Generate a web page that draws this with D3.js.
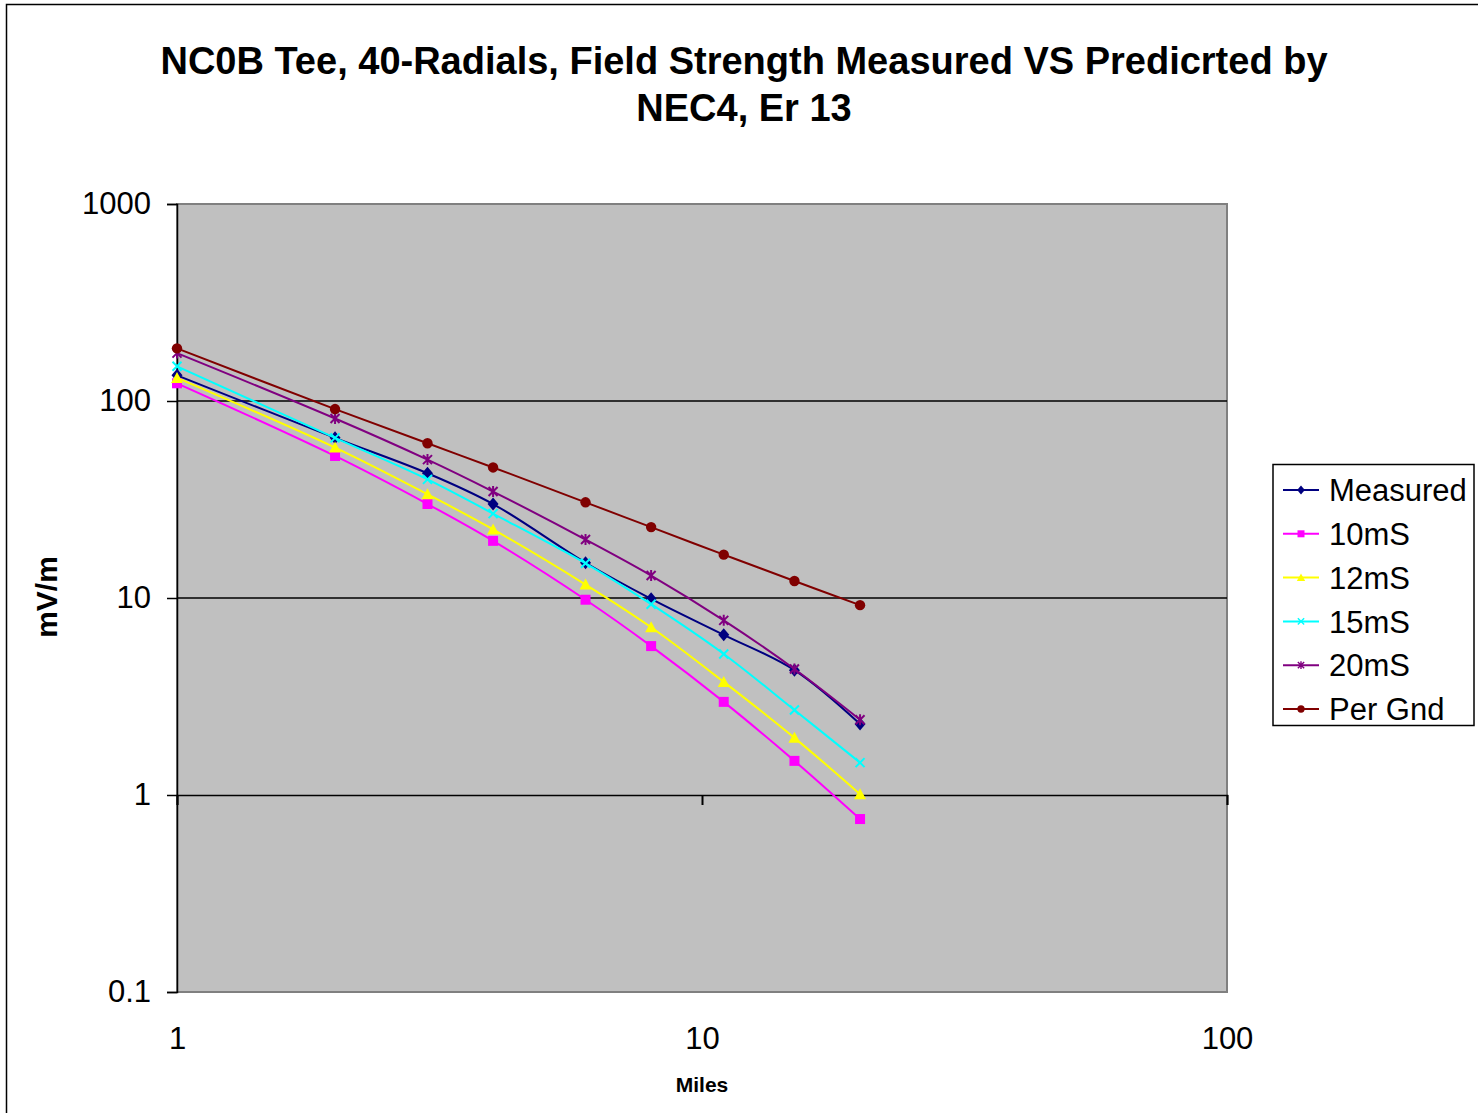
<!DOCTYPE html>
<html>
<head>
<meta charset="utf-8">
<script src="https://cdn.jsdelivr.net/npm/d3@7"></script>
<style>
  html, body { margin: 0; padding: 0; background: #fff; }
  svg { display: block; font-family: "Liberation Sans", Arial, sans-serif; }
</style>
</head>
<body>
<svg id="chart" width="1478" height="1113"></svg>
<script>
// distances in miles
const miles = [1, 2, 3, 4, 6, 8, 11, 15, 20]
// field strength, mV/m
const measured = [135, 65, 43, 30, 15.1, 9.9, 6.5, 4.3, 2.29]
const ms10 = [123, 52.6, 30, 19.5, 9.8, 5.7, 2.97, 1.49, 0.755]
const ms12 = [131, 58, 33.6, 22.3, 11.7, 7.1, 3.75, 1.95, 1.01]
const ms15 = [150, 65, 40, 26.8, 15, 9.3, 5.2, 2.7, 1.46]
const ms20 = [175, 81.5, 50.4, 34.7, 19.8, 13, 7.7, 4.36, 2.41]
const perGnd = [185, 91, 61, 46, 30.6, 22.9, 16.6, 12.2, 9.2]

const seriesNames = ["Measured", "10mS", "12mS", "15mS", "20mS", "Per Gnd"]
const xTicks = [1, 10, 100]
const yTicks = [0.1, 1, 10, 100, 1000]

const colors = ["#000080", "#FF00FF", "#FFFF00", "#00FFFF", "#800080", "#800000"]
const markers = ["diamond", "square", "triangle", "x", "star", "circle"]

const series = [measured, ms10, ms12, ms15, ms20, perGnd].map((vals, i) => ({
  name: seriesNames[i],
  color: colors[i],
  marker: markers[i],
  points: miles.map((m, j) => ({ x: m, y: vals[j] }))
}))

const svg = d3.select("#chart")

// chart frame
svg.append("rect")
  .attr("x", 6.5).attr("y", 4.5)
  .attr("width", 1500).attr("height", 1130)
  .attr("fill", "#fff").attr("stroke", "#000").attr("stroke-width", 1.5)

const pLeft = 177, pRight = 1227, pTop = 204, pBottom = 992
const x = d3.scaleLog().domain([1, 100]).range([pLeft, pRight])
const y = d3.scaleLog().domain([0.1, 1000]).range([pBottom, pTop])

// plot area
svg.append("rect")
  .attr("x", pLeft).attr("y", pTop)
  .attr("width", pRight - pLeft).attr("height", pBottom - pTop)
  .attr("fill", "#C0C0C0").attr("stroke", "#808080").attr("stroke-width", 2)

// gridlines
svg.append("g")
  .selectAll("line")
  .data([10, 100])
  .join("line")
    .attr("x1", pLeft).attr("x2", pRight)
    .attr("y1", d => y(d)).attr("y2", d => y(d))
    .attr("stroke", "#000").attr("stroke-width", 1.5)

// x axis crosses at 1
const xAxis = svg.append("g")
  .attr("transform", `translate(0,${y(1)})`)
  .call(d3.axisBottom(x).tickValues(xTicks).tickSize(10).tickFormat(""))
xAxis.select(".domain").attr("stroke", "#000").attr("stroke-width", 1.5)
xAxis.selectAll(".tick line").attr("stroke", "#000").attr("stroke-width", 2)

// x tick labels at the bottom
const xLabels = svg.append("g")
  .attr("transform", `translate(0,${pBottom})`)
  .call(d3.axisBottom(x).tickValues(xTicks).tickSize(0).tickPadding(35).tickFormat(d3.format("d")))
xLabels.select(".domain").remove()
xLabels.selectAll("text")
  .style("font-size", "31px").style("font-family", "Liberation Sans, Arial, sans-serif").attr("fill", "#000")

// y axis
const yAxis = svg.append("g")
  .attr("transform", `translate(${pLeft},0)`)
  .call(d3.axisLeft(y).tickValues(yTicks).tickSize(10).tickPadding(16)
    .tickFormat(d => d < 1 ? "0.1" : d3.format("d")(d)))
yAxis.select(".domain").attr("stroke", "#000").attr("stroke-width", 1.5)
yAxis.selectAll(".tick line").attr("stroke", "#000").attr("stroke-width", 1.5)
yAxis.selectAll("text")
  .style("font-size", "31px").style("font-family", "Liberation Sans, Arial, sans-serif").attr("fill", "#000")

// marker shapes
function markerPath(type) {
  switch (type) {
    case "diamond": return "M0,-6.5L5.5,0L0,6.5L-5.5,0Z"
    case "square": return "M-5,-5H5V5H-5Z"
    case "triangle": return "M0,-6L6,5L-6,5Z"
    case "x": return "M-4.5,-4.5L4.5,4.5M-4.5,4.5L4.5,-4.5"
    case "star": return "M-4.5,-4.5L4.5,4.5M-4.5,4.5L4.5,-4.5M0,-5.5V5.5"
    case "circle": return "M5.2,0A5.2,5.2 0 1,1 -5.2,0A5.2,5.2 0 1,1 5.2,0Z"
  }
}
function drawMarker(g, s) {
  const stroked = s.marker === "x" || s.marker === "star"
  g.append("path")
    .attr("d", markerPath(s.marker))
    .attr("fill", stroked ? "none" : s.color)
    .attr("stroke", stroked ? s.color : "none")
    .attr("stroke-width", stroked ? 2 : 0)
}

const line = d3.line()
  .x(d => x(d.x))
  .y(d => y(d.y))
  .curve(d3.curveCatmullRom.alpha(0.5))

// series
series.forEach(s => {
  const g = svg.append("g")
  g.append("path")
    .datum(s.points)
    .attr("d", line)
    .attr("fill", "none")
    .attr("stroke", s.color)
    .attr("stroke-width", 2)
  g.selectAll("g.pt")
    .data(s.points)
    .join("g")
      .attr("class", "pt")
      .attr("transform", d => `translate(${x(d.x)},${y(d.y)})`)
      .each(function () { drawMarker(d3.select(this), s) })
})

// legend
const legend = svg.append("g")
legend.append("rect")
  .attr("x", 1273).attr("y", 464.5)
  .attr("width", 201).attr("height", 261)
  .attr("fill", "#fff").attr("stroke", "#000").attr("stroke-width", 1.5)
const rows = legend.selectAll("g.row")
  .data(series)
  .join("g")
    .attr("class", "row")
    .attr("transform", (d, i) => `translate(1301,${490 + i * 43.8})`)
rows.append("line")
  .attr("x1", -18).attr("x2", 18)
  .attr("stroke", d => d.color).attr("stroke-width", 2)
rows.each(function (d) {
  const g = d3.select(this).append("g").attr("transform", "scale(0.7)")
  drawMarker(g, d)
})
rows.append("text")
  .attr("x", 28).attr("dy", "0.36em")
  .style("font-size", "31px")
  .text(d => d.name)

// titles
const title = svg.append("text")
  .attr("x", 744).attr("text-anchor", "middle")
  .style("font-size", "38px").style("font-weight", "bold")
title.append("tspan").attr("x", 744).attr("y", 74).text("NC0B Tee, 40-Radials, Field Strength Measured VS Predicrted by")
title.append("tspan").attr("x", 744).attr("y", 121).text("NEC4, Er 13")

svg.append("text")
  .attr("transform", "translate(57,597) rotate(-90)")
  .attr("text-anchor", "middle")
  .style("font-size", "30px").style("font-weight", "bold")
  .text("mV/m")

svg.append("text")
  .attr("x", 702).attr("y", 1092)
  .attr("text-anchor", "middle")
  .style("font-size", "21px").style("font-weight", "bold")
  .text("Miles")
</script>
</body>
</html>
